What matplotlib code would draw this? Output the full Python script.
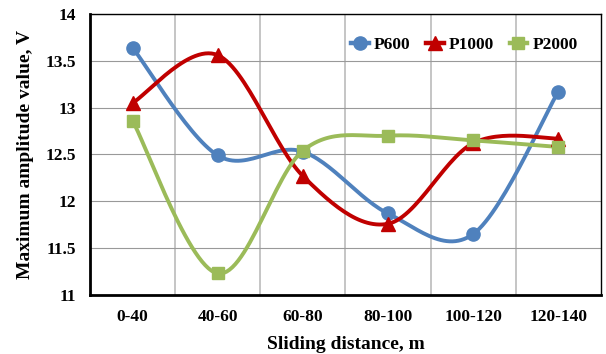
import numpy as np
import matplotlib.pyplot as plt

categories = ['0-40', '40-60', '60-80', '80-100', '100-120', '120-140']
p600 = [13.64, 12.49, 12.53, 11.87, 11.65, 13.17]
p1000 = [13.05, 13.56, 12.27, 11.76, 12.62, 12.67]
p2000 = [12.86, 11.23, 12.54, 12.70, 12.65, 12.58]

plt.rcParams['font.family'] = ['Liberation Serif', 'DejaVu Serif']
plt.rcParams['font.weight'] = 'bold'


def smooth(x, y, n=30):
    # Excel-like smoothed line (Catmull-Rom bezier)
    x = np.asarray(x, float)
    y = np.asarray(y, float)
    px = np.concatenate([[x[0]], x, [x[-1]]])
    py = np.concatenate([[y[0]], y, [y[-1]]])
    xs, ys = [], []
    t = np.linspace(0, 1, n)
    for i in range(1, len(px) - 2):
        p0 = np.array([px[i], py[i]])
        p3 = np.array([px[i + 1], py[i + 1]])
        c1 = p0 + (np.array([px[i + 1], py[i + 1]]) - np.array([px[i - 1], py[i - 1]])) / 6
        c2 = p3 - (np.array([px[i + 2], py[i + 2]]) - np.array([px[i], py[i]])) / 6
        b = (((1 - t) ** 3)[:, None] * p0 + (3 * (1 - t) ** 2 * t)[:, None] * c1
             + (3 * (1 - t) * t ** 2)[:, None] * c2 + (t ** 3)[:, None] * p3)
        xs.extend(b[:, 0])
        ys.extend(b[:, 1])
    return xs, ys


fig = plt.figure(figsize=(6.06, 3.54), dpi=100)
ax = fig.add_axes([0.1485, 0.1667, 0.843, 0.794])

x = np.arange(len(categories))
series = [
    ('P600', p600, '#4F81BD', 'o', 9.5),
    ('P1000', p1000, '#C00000', '^', 10.5),
    ('P2000', p2000, '#9BBB59', 's', 8.5),
]
for name, vals, col, mk, ms in series:
    sx, sy = smooth(x, vals)
    ax.plot(sx, sy, color=col, lw=2.8, zorder=3)
    ax.plot(x, vals, ls='none', marker=mk, ms=ms, color=col, zorder=4)
    ax.plot([], [], color=col, lw=3.2, marker=mk, ms=ms, label=name)

ax.set_xlim(-0.5, len(categories) - 0.5)
ax.set_ylim(11, 14)
ax.set_yticks([11, 11.5, 12, 12.5, 13, 13.5, 14])
ax.set_yticklabels(['11', '11.5', '12', '12.5', '13', '13.5', '14'])
ax.set_xticks(x)
ax.set_xticklabels(categories)
ax.set_xticks(np.arange(0.5, len(categories) - 0.5), minor=True)
ax.tick_params(which='both', length=0, labelsize=12.5)
ax.tick_params(axis='x', pad=10)
ax.tick_params(axis='y', pad=10)
ax.grid(axis='y', color='#999999', lw=0.8)
ax.grid(axis='x', which='minor', color='#BBBBBB', lw=1.2)
ax.set_axisbelow(True)
for s in ['top', 'right']:
    ax.spines[s].set_linewidth(1.0)
for s in ['left', 'bottom']:
    ax.spines[s].set_linewidth(2.0)

ax.set_xlabel('Sliding distance, m', fontsize=14, fontweight='bold', labelpad=8)
ax.set_ylabel('Maximum amplitude value, V', fontsize=14, fontweight='bold', labelpad=8)
ax.legend(loc='upper right', ncol=3, frameon=False, fontsize=12.5, handlelength=1.0,
          columnspacing=0.9, handletextpad=0.3, bbox_to_anchor=(0.985, 0.975))

fig.savefig('out.png', dpi=100)
